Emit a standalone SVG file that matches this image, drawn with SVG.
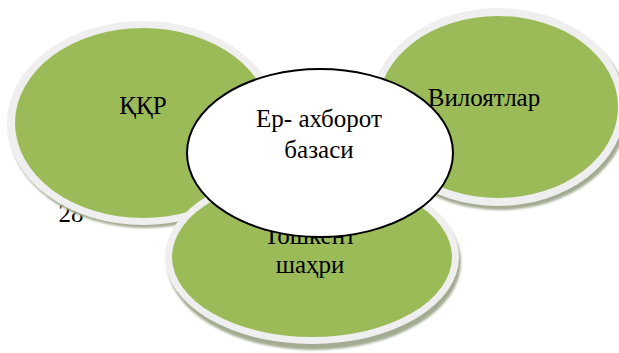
<svg xmlns="http://www.w3.org/2000/svg" width="619" height="353" viewBox="0 0 619 353">
<defs>
<filter id="blur" x="-10%" y="-10%" width="120%" height="120%"><feGaussianBlur stdDeviation="1"/></filter>
</defs>
<style>
.shadow{fill:#a3ac92;filter:url(#blur)}
.ring{fill:#efefef}
.green{fill:#9bbb59}
.center{fill:#ffffff;stroke:#000000;stroke-width:2}
.t{font-family:"Liberation Serif","Times New Roman",serif;font-size:25px;fill:#000000;text-anchor:middle}
</style>
<rect width="619" height="353" fill="#ffffff"/>
<text class="t" x="71" y="222">28</text>
<g id="node-kkr">
<ellipse class="shadow" cx="145" cy="127" rx="136" ry="101"/>
<ellipse class="ring" cx="143" cy="123" rx="136" ry="102"/>
<ellipse class="green" cx="143" cy="123" rx="128" ry="95"/>
<text class="t" x="143" y="114">ҚҚР</text>
</g>
<g id="node-viloyatlar">
<ellipse class="shadow" cx="500" cy="111" rx="128" ry="99"/>
<ellipse class="ring" cx="498" cy="107" rx="127" ry="99"/>
<ellipse class="green" cx="498" cy="107" rx="120" ry="91"/>
<text class="t" x="484" y="106">Вилоятлар</text>
</g>
<g id="node-toshkent">
<ellipse class="shadow" cx="314" cy="262" rx="147" ry="88"/>
<ellipse class="ring" cx="312" cy="257" rx="147" ry="87"/>
<ellipse class="green" cx="312" cy="257" rx="140" ry="80"/>
<text class="t" x="310" y="244">Тошкент</text>
<text class="t" x="310" y="273">шаҳри</text>
</g>
<g id="connectors"></g>
<g id="node-center">
<ellipse class="center" cx="320" cy="153" rx="133" ry="84"/>
<text class="t" x="319" y="127">Ер- ахборот</text>
<text class="t" x="319" y="158">базаси</text>
</g>
</svg>
